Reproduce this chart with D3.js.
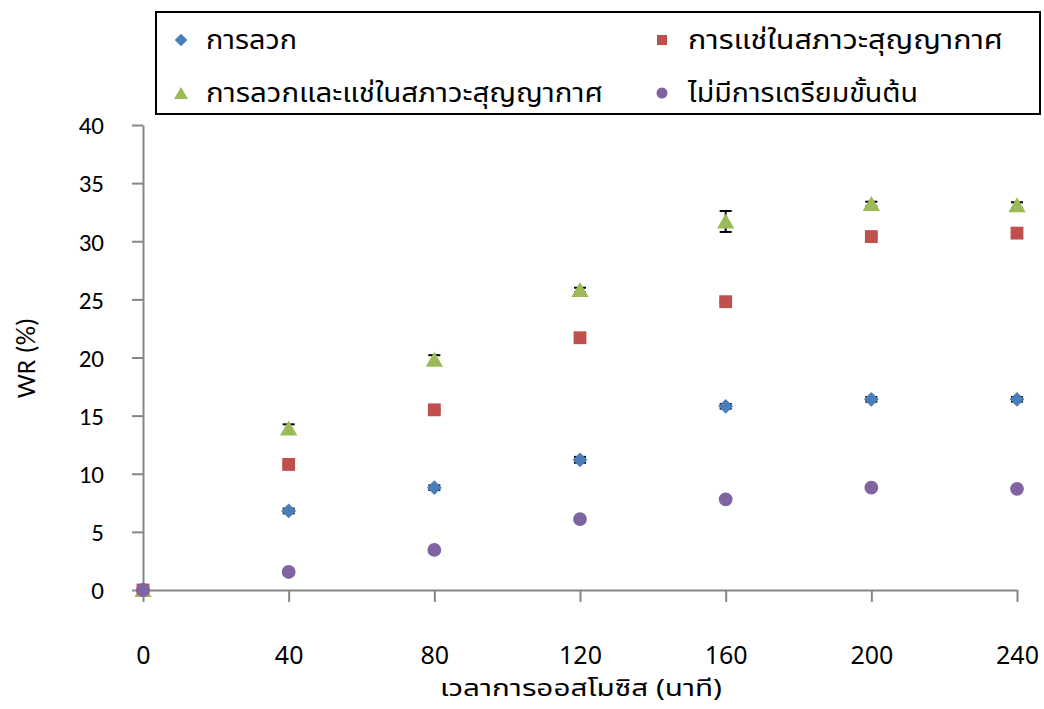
<!DOCTYPE html>
<html><head><meta charset="utf-8">
<script src="https://cdn.jsdelivr.net/npm/d3@7"></script>
<style>body{margin:0;background:#fff}svg{display:block}</style>
</head><body>
<svg id="c" width="1044" height="709"></svg>
<script>
const times = [0, 40, 80, 120, 160, 200, 240];
const blanchVals = [0, 6.8, 8.8, 11.2, 15.8, 16.4, 16.4];
const blanchErr  = [0, 0.2, 0.2, 0.25, 0.2, 0.2, 0.2];
const vacuumVals = [0, 10.8, 15.5, 21.7, 24.8, 30.4, 30.7];
const vacuumErr  = [0, 0.1, 0.1, 0.1, 0.1, 0.2, 0.1];
const bothVals   = [0, 13.9, 19.8, 25.8, 31.7, 33.2, 33.1];
const bothErr    = [0, 0.35, 0.4, 0.2, 0.9, 0.2, 0.25];
const noneVals   = [0, 1.55, 3.45, 6.1, 7.8, 8.8, 8.7];
const noneErr    = [0, 0.15, 0.05, 0.15, 0.05, 0.05, 0.05];
const seriesNames = ["การลวก", "การแช่ในสภาวะสุญญากาศ", "การลวกและแช่ในสภาวะสุญญากาศ", "ไม่มีการเตรียมขั้นต้น"];
const xTicks = [0, 40, 80, 120, 160, 200, 240];
const yTicks = [0, 5, 10, 15, 20, 25, 30, 35, 40];
const xTitle = "เวลาการออสโมซิส (นาที)";
const yTitle = "WR (%)";

const series = [
  {name: seriesNames[0], vals: blanchVals, err: blanchErr, color: "#4A7EBB", shape: "diamond"},
  {name: seriesNames[1], vals: vacuumVals, err: vacuumErr, color: "#C0504D", shape: "square"},
  {name: seriesNames[2], vals: bothVals, err: bothErr, color: "#9BBB59", shape: "triangle"},
  {name: seriesNames[3], vals: noneVals, err: noneErr, color: "#8064A2", shape: "circle"}
];

const svg = d3.select("#c");
const x = d3.scaleLinear().domain([0, 240]).range([143, 1017]);
const y = d3.scaleLinear().domain([0, 40]).range([590, 125]);
const thaiFont = "'Noto Sans Thai','Noto Sans','DejaVu Sans',sans-serif";
const numFont = "Carlito, Lato, 'Liberation Sans', sans-serif";
const axisColor = "#868686";

// axes
const yAxis = svg.append("g").attr("transform", "translate(143,0)")
  .call(d3.axisLeft(y).tickValues(yTicks).tickSize(11).tickPadding(28).tickSizeOuter(0));
const xAxis = svg.append("g").attr("transform", "translate(0,590)")
  .call(d3.axisBottom(x).tickValues(xTicks).tickSize(12).tickPadding(44).tickSizeOuter(0));
[yAxis, xAxis].forEach(g => {
  g.select(".domain").attr("stroke", axisColor).attr("stroke-width", 2);
  g.selectAll(".tick line").attr("stroke", axisColor).attr("stroke-width", 2);
  g.selectAll(".tick text").attr("fill", "#000");
});
yAxis.selectAll(".tick text").attr("font-family", numFont).attr("font-size", 25).attr("dy", "0.35em");
xAxis.selectAll(".tick text").attr("font-family", thaiFont).attr("font-size", 25);

// symbol helpers
const squareDiamond = {draw(ctx, size){ const r = Math.sqrt(size / 2); ctx.moveTo(0, -r); ctx.lineTo(r, 0); ctx.lineTo(0, r); ctx.lineTo(-r, 0); ctx.closePath(); }};
const symMap = {diamond: squareDiamond, square: d3.symbolSquare, triangle: d3.symbolTriangle, circle: d3.symbolCircle};
const sizeMap = {diamond: 110, square: 165, triangle: 130, circle: 150};
function sym(shape, sz){ return d3.symbol().type(symMap[shape]).size(sz)(); }

// data
series.forEach(s => {
  const g = svg.append("g");
  const pts = times.map((t, i) => ({t, v: s.vals[i], e: s.err[i]}));
  const eb = g.append("g").attr("stroke", "#000").attr("stroke-width", 2);
  pts.filter(p => p.e > 0).forEach(p => {
    const cx = x(p.t);
    eb.append("line").attr("x1", cx).attr("x2", cx).attr("y1", y(p.v + p.e)).attr("y2", y(p.v - p.e));
    eb.append("line").attr("x1", cx - 6).attr("x2", cx + 6).attr("y1", y(p.v + p.e)).attr("y2", y(p.v + p.e));
    eb.append("line").attr("x1", cx - 6).attr("x2", cx + 6).attr("y1", y(p.v - p.e)).attr("y2", y(p.v - p.e));
  });
  g.selectAll("path.m").data(pts).join("path").attr("class", "m")
    .attr("d", sym(s.shape, sizeMap[s.shape]))
    .attr("transform", p => `translate(${x(p.t)},${y(p.v) + (s.shape === "triangle" ? 2 : 0)})`)
    .attr("fill", s.color);
});

// axis titles
svg.append("text").attr("x", 581).attr("y", 696).attr("text-anchor", "middle")
  .attr("font-family", thaiFont).attr("font-size", 23)
  .attr("textLength", 282).attr("lengthAdjust", "spacingAndGlyphs").text(xTitle);
svg.append("text").attr("transform", "translate(35,358) rotate(-90)").attr("text-anchor", "middle")
  .attr("font-family", numFont).attr("font-size", 27).text(yTitle);

// legend
const lg = svg.append("g");
lg.append("rect").attr("x", 156).attr("y", 12).attr("width", 884).attr("height", 102)
  .attr("fill", "#fff").attr("stroke", "#000").attr("stroke-width", 2);
const legPos = [
  {mx: 181, tx: 206, cy: 40, w: 91},
  {mx: 662, tx: 688, cy: 40, w: 315},
  {mx: 181, tx: 206, cy: 93, w: 397},
  {mx: 662, tx: 688, cy: 93, w: 230}
];
const legSize = {diamond: 80, square: 100, triangle: 85, circle: 95};
series.forEach((s, i) => {
  const p = legPos[i];
  lg.append("path").attr("d", sym(s.shape, legSize[s.shape]))
    .attr("transform", `translate(${p.mx},${p.cy + (s.shape === "triangle" ? 2 : 0)})`).attr("fill", s.color);
  lg.append("text").attr("x", p.tx).attr("y", p.cy + 9)
    .attr("font-family", thaiFont).attr("font-size", 26)
    .attr("textLength", p.w).attr("lengthAdjust", "spacingAndGlyphs").text(s.name);
});
</script>
</body></html>
